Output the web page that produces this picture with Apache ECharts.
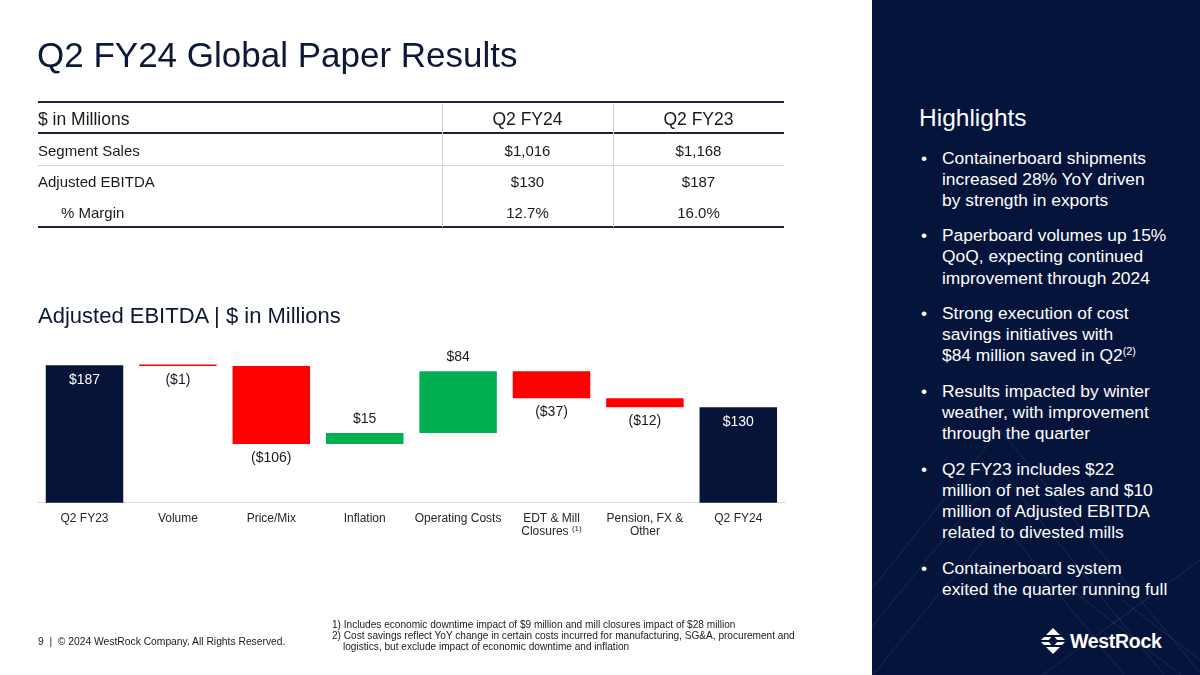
<!DOCTYPE html>
<html>
<head>
<meta charset="utf-8">
<script src="https://cdn.jsdelivr.net/npm/echarts@6/dist/echarts.min.js"></script>
<style>
  html, body { margin:0; padding:0; width:1200px; height:675px; overflow:hidden; background:#ffffff; }
  body { font-family: "Liberation Sans", Arial, Helvetica, sans-serif; position:relative; }
  .abs { position:absolute; white-space:nowrap; }
  #chart { position:absolute; left:0; top:0; width:1200px; height:675px; }
  .hline { position:absolute; left:38px; width:746px; }
  .vline { position:absolute; top:103px; height:124px; width:1px; background:#d4d4d4; }
  #panel { position:absolute; left:872px; top:0; width:328px; height:675px; background:#05143b; overflow:hidden; }
  #hl ul { list-style:none; margin:0; padding:0; }
  #hl li { position:relative; padding-left:0; margin:0 0 14.6px 0; }
  #hl li .b { position:absolute; left:-21px; top:0; }
  sup { font-size:0.62em; line-height:0; vertical-align:0.55em; }
</style>
</head>
<body>
<div id="chart"></div>

<!-- Title -->
<div class="abs" style="left:37px; top:37px; font-size:35px; line-height:35px; color:#0d1836;">Q2 FY24 Global Paper Results</div>

<!-- Table -->
<div class="hline" style="top:101px; height:2px; background:#1b2542;"></div>
<div class="hline" style="top:132px; height:2px; background:#1b2542;"></div>
<div class="hline" style="top:164.5px; height:1px; background:#d4d4d4;"></div>
<div class="hline" style="top:226px; height:2px; background:#1b2542;"></div>
<div class="vline" style="left:442px;"></div>
<div class="vline" style="left:613px;"></div>
<div id="table"></div>

<!-- Chart subtitle -->
<div class="abs" style="left:38px; top:305px; font-size:22px; line-height:22px; color:#0d1836;">Adjusted EBITDA | $ in Millions</div>

<!-- Footer -->
<div class="abs" style="left:38px; top:635px; font-size:10.3px; line-height:14px; color:#1a1a1a;">9&nbsp; |&nbsp; © 2024 WestRock Company. All Rights Reserved.</div>
<div class="abs" style="left:332px; top:620px; font-size:10.1px; line-height:10.9px; color:#1a1a1a;">
1) Includes economic downtime impact of $9 million and mill closures impact of $28 million<br>
2) Cost savings reflect YoY change in certain costs incurred for manufacturing, SG&amp;A, procurement and<br>
<span style="padding-left:11px;">logistics, but exclude impact of economic downtime and inflation</span>
</div>

<!-- Right panel -->
<div id="panel">
  <svg width="328" height="675" style="position:absolute;left:0;top:0;">
    <g stroke="rgba(160,180,230,0.15)" stroke-width="1" fill="none">
      <polyline points="-60,700 128,470 360,760"/>
      <polyline points="-90,700 128,430 400,760"/>
      <polyline points="-20,700 128,520 320,760"/>
      <line x1="200" y1="590" x2="328" y2="690"/>
      <line x1="250" y1="600" x2="328" y2="660"/>
      <line x1="150" y1="690" x2="328" y2="560"/>
    </g>
  </svg>
  <div class="abs" style="left:47px; top:105px; font-size:24.5px; line-height:26px; color:#ffffff;">Highlights</div>
  <div id="hl" class="abs" style="left:70px; top:147.5px; font-size:17.4px; line-height:21.1px; color:#ffffff; white-space:nowrap;">
    <ul>
      <li><span class="b">•</span>Containerboard shipments<br>increased 28% YoY driven<br>by strength in exports</li>
      <li><span class="b">•</span>Paperboard volumes up 15%<br>QoQ, expecting continued<br>improvement through 2024</li>
      <li><span class="b">•</span>Strong execution of cost<br>savings initiatives with<br>$84 million saved in Q2<sup>(2)</sup></li>
      <li><span class="b">•</span>Results impacted by winter<br>weather, with improvement<br>through the quarter</li>
      <li><span class="b">•</span>Q2 FY23 includes $22<br>million of net sales and $10<br>million of Adjusted EBITDA<br>related to divested mills</li>
      <li><span class="b">•</span>Containerboard system<br>exited the quarter running full</li>
    </ul>
  </div>
  <!-- Logo -->
  <svg width="28" height="28" viewBox="0 0 28 28" style="position:absolute; left:167px; top:627px;">
    <polygon points="14,1 27,14 14,27 1,14" fill="#ffffff"/>
    <g stroke="#05143b" stroke-width="2">
      <line x1="0" y1="9" x2="28" y2="9"/>
      <line x1="0" y1="14" x2="28" y2="14"/>
      <line x1="0" y1="19" x2="28" y2="19"/>
    </g>
    <polygon points="14,8 19,14 14,20 9,14" fill="#05143b"/>
  </svg>
  <div class="abs" style="left:198px; top:629px; font-size:19.5px; line-height:24px; font-weight:bold; color:#ffffff; letter-spacing:-0.3px;">WestRock</div>
</div>

<script>
// ---------- Table data ----------
const tableHeader = ['$ in Millions', 'Q2 FY24', 'Q2 FY23'];
const tableRows = ['Segment Sales', 'Adjusted EBITDA', '% Margin'];
const colQ2FY24 = ['$1,016', '$130', '12.7%'];
const colQ2FY23 = ['$1,168', '$187', '16.0%'];

// ---------- Waterfall data ----------
const categories = ['Q2 FY23', 'Volume', 'Price/Mix', 'Inflation', 'Operating Costs', 'EDT & Mill\nClosures', 'Pension, FX &\nOther', 'Q2 FY24'];
const categoryNotes = ['', '', '', '', '', '(1)', '', ''];
const values = [187, -1, -106, 15, 84, -37, -12, 130];
const isTotal = [true, false, false, false, false, false, false, true];

// ---------- Build table ----------
(function () {
  const t = document.getElementById('table');
  function add(html, style) {
    const d = document.createElement('div');
    d.className = 'abs';
    d.style.cssText = style;
    d.innerHTML = html;
    t.appendChild(d);
  }
  add(tableHeader[0], 'left:38px;top:109px;font-size:17.5px;line-height:20px;color:#1a1a1a;');
  add(tableHeader[1], 'left:442px;width:171px;text-align:center;top:109px;font-size:17.5px;line-height:20px;color:#1a1a1a;');
  add(tableHeader[2], 'left:613px;width:171px;text-align:center;top:109px;font-size:17.5px;line-height:20px;color:#1a1a1a;');
  const tops = [141.5, 173, 204];
  const lefts = [38, 38, 61];
  tableRows.forEach((r, i) => {
    add(r, 'left:' + lefts[i] + 'px;top:' + tops[i] + 'px;font-size:15px;line-height:18px;color:#1a1a1a;');
    add(colQ2FY24[i], 'left:442px;width:171px;text-align:center;top:' + tops[i] + 'px;font-size:15px;line-height:18px;color:#1a1a1a;');
    add(colQ2FY23[i], 'left:613px;width:171px;text-align:center;top:' + tops[i] + 'px;font-size:15px;line-height:18px;color:#1a1a1a;');
  });
})();

// ---------- Waterfall series ----------
const baseData = [], posData = [], negData = [], totData = [];
let running = 0;
values.forEach((v, i) => {
  if (isTotal[i]) {
    baseData.push(0); posData.push('-'); negData.push('-'); totData.push(v);
    running = v;
  } else if (v >= 0) {
    baseData.push(running); posData.push(v); negData.push('-'); totData.push('-');
    running += v;
  } else {
    baseData.push(running + v); posData.push('-'); negData.push(-v); totData.push('-');
    running += v;
  }
});

const FONT = '"Liberation Sans", Arial, sans-serif';
const chart = echarts.init(document.getElementById('chart'), null, { renderer: 'canvas' });
chart.setOption({
  animation: false,
  backgroundColor: 'transparent',
  grid: { left: 37.8, right: 415, top: 355.7, bottom: 172.3, containLabel: false },
  xAxis: {
    type: 'category',
    data: categories,
    axisLine: { lineStyle: { color: '#d9d9d9', width: 1 } },
    axisTick: { show: false },
    axisLabel: {
      interval: 0,
      margin: 9,
      color: '#262626',
      fontSize: 12,
      lineHeight: 13.5,
      fontFamily: FONT,
      formatter: function (val, idx) {
        const note = categoryNotes[idx];
        return note ? val + ' {sup|' + note + '}' : val;
      },
      rich: {
        sup: { fontSize: 8, color: '#262626', fontFamily: FONT, padding: [0, 0, 6, 0] }
      }
    }
  },
  yAxis: { type: 'value', min: 0, max: 200, show: false, splitLine: { show: false } },
  series: [
    {
      name: 'base', type: 'bar', stack: 'w', barWidth: 77.5, silent: true,
      itemStyle: { color: 'rgba(0,0,0,0)' }, data: baseData
    },
    {
      name: 'increase', type: 'bar', stack: 'w', barWidth: 77.5,
      itemStyle: { color: '#00b050' }, data: posData,
      label: {
        show: true, position: 'top', distance: 7, color: '#1a1a1a', fontSize: 14, fontFamily: FONT,
        formatter: p => '$' + p.value
      }
    },
    {
      name: 'decrease', type: 'bar', stack: 'w', barWidth: 77.5, barMinHeight: 1.5,
      itemStyle: { color: '#ff0000' }, data: negData,
      label: {
        show: true, position: 'bottom', distance: 7, color: '#1a1a1a', fontSize: 14, fontFamily: FONT,
        formatter: p => '($' + p.value + ')'
      }
    },
    {
      name: 'total', type: 'bar', stack: 'w', barWidth: 77.5,
      itemStyle: { color: '#06143a' }, data: totData,
      label: {
        show: true, position: 'insideTop', distance: 8, color: '#ffffff', fontSize: 14, fontFamily: FONT,
        formatter: p => '$' + p.value
      }
    }
  ]
});
</script>
</body>
</html>
